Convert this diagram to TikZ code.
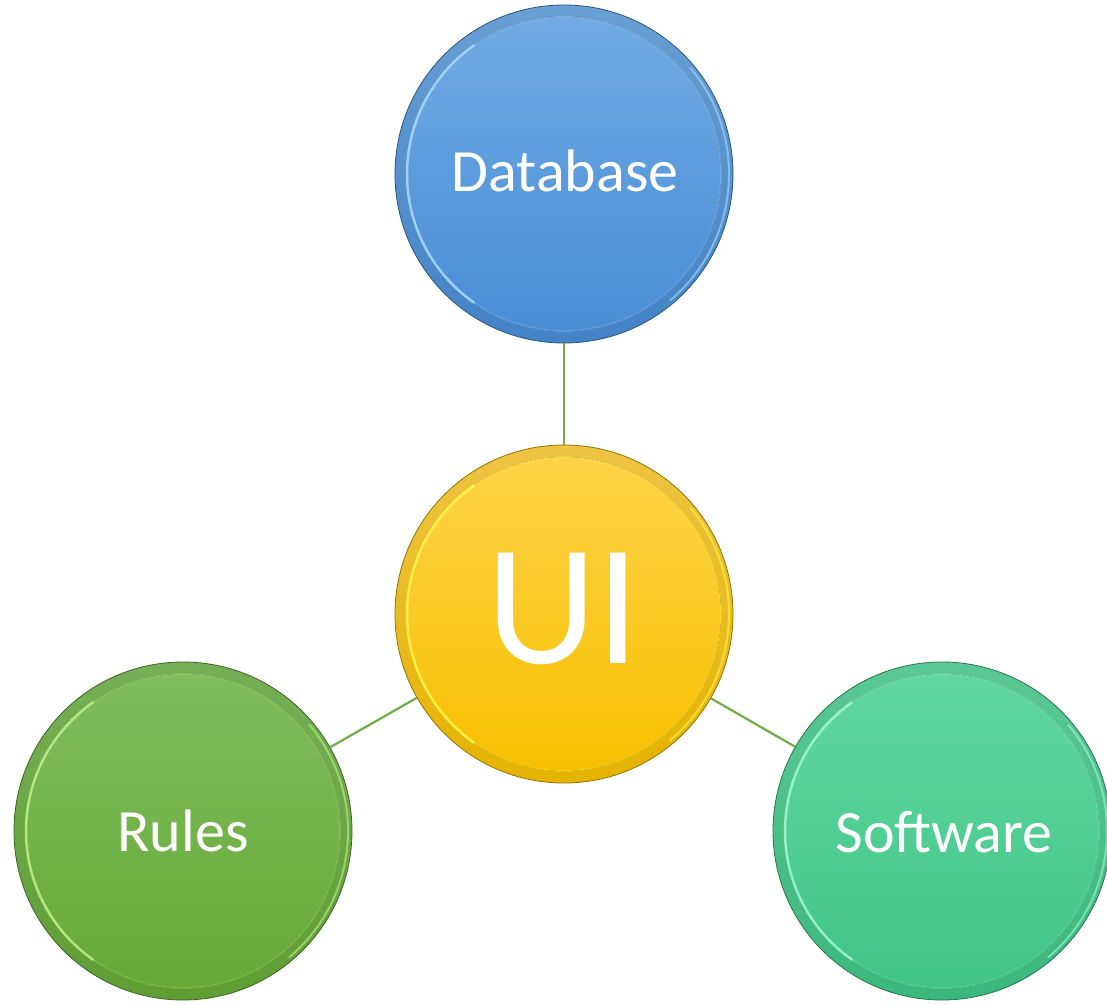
\documentclass[tikz,border=0pt]{standalone}
\usepackage{fontspec}
\setmainfont{Carlito}
\definecolor{linkgreen}{HTML}{70AD47}
\definecolor{dbtop}{HTML}{70ABE4}
\definecolor{dbbot}{HTML}{488DD5}
\definecolor{dbhi}{HTML}{A9D8FA}
\definecolor{uitop}{HTML}{FFD348}
\definecolor{uibot}{HTML}{F6C000}
\definecolor{uihi}{HTML}{FFF550}
\definecolor{rutop}{HTML}{7FBD5D}
\definecolor{rubot}{HTML}{66A938}
\definecolor{ruhi}{HTML}{BDF08A}
\definecolor{swtop}{HTML}{62D7A0}
\definecolor{swbot}{HTML}{40C585}
\definecolor{swhi}{HTML}{A0F8D0}
\tikzset{
  bubble/.style={circle, minimum size=338pt, inner sep=0pt,
    top color=#1top!93!black, bottom color=#1bot!93!black,
    draw=#1bot!60!black, line width=0.8pt},
  link/.style={draw=linkgreen, line width=2.2pt},
  lbl/.style={text=white, anchor=base, inner sep=0pt, font=\fontsize{60}{60}\selectfont},
}
\newcommand{\bevel}[2]{%
  \fill[top color=#2top, bottom color=#2bot] (#1.center) circle (157pt);
  \draw[#2hi, line width=1.2pt, opacity=0.35] (#1.center) circle (157pt);
  \draw[#2hi, line width=2.5pt, opacity=0.85, line cap=round]
    ($(#1.center)+(125:157pt)$) arc[start angle=125, end angle=235, radius=157pt];
  \draw[#2hi, line width=2pt, opacity=0.6, line cap=round]
    ($(#1.center)+(-50:165pt)$) arc[start angle=-50, end angle=40, radius=165pt];
}
\usetikzlibrary{calc}
\begin{document}
\begin{tikzpicture}[x=1pt,y=-1pt]
\useasboundingbox (0,0) rectangle (1107,1004);
% circles
\node[bubble=db] (db) at (564,174) {};
\bevel{db}{db}
\node[bubble=ui] (ui) at (564,614) {};
\bevel{ui}{ui}
\node[bubble=ru] (ru) at (183,831) {};
\bevel{ru}{ru}
\node[bubble=sw] (sw) at (942,831) {};
\bevel{sw}{sw}
% connectors
\draw[link] (db) -- (ui);
\draw[link] (ui) -- (ru);
\draw[link] (ui) -- (sw);
% labels
\node[lbl] (dbt) at (565,191) {Database};
\node[lbl, font=\fontsize{172}{172}\selectfont] (uit) at (563,663) {UI};
\node[lbl] (rut) at (183,851) {Rules};
\node[lbl] (swt) at (944,852) {Software};
\end{tikzpicture}
\end{document}
